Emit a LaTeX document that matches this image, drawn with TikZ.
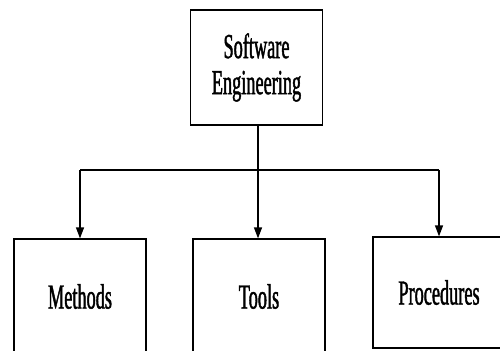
\documentclass[tikz,border=0pt]{standalone}
\usepackage{fontspec}
\newfontfamily\cajafont[FakeStretch=0.52,FakeBold=1.2]{Liberation Serif}
\usetikzlibrary{positioning,arrows.meta}
\begin{document}
\begin{tikzpicture}[
	caja/.style={draw, line width=.7pt, minimum width=2.64cm, minimum height=2.3cm, align=center, font=\cajafont\fontsize{20}{20.5}\selectfont},
	flecha/.style={-{Triangle[length=2.2mm,width=1.6mm]}, line width=.7pt}]
			\useasboundingbox (0,0) rectangle (10,7);
			\clip (0,0) rectangle (10,7);
			%Raiz%
			\node[caja] (se) at (5.13,5.65) {Software\\Engineering};
			%Hijos%
			\node[caja] (met) at (1.6,1.07) {Methods};
			\node[caja] (too) at (5.18,1.07) {\raisebox{-3pt}{Tools}};
			\node[caja, minimum height=2.22cm] (pro) at (8.78,1.15) {Procedures};
			\coordinate (rama) at (5.16,3.6);
			\draw [line width=.7pt] (se.south -| rama) -- (rama);
			\draw [line width=.7pt] (met.north |- rama) -- (pro.north |- rama);
			\draw [flecha] (met.north |- rama) -- (met.north);
			\draw [flecha] (rama) -- (rama |- too.north);
			\draw [flecha] (pro.north |- rama) -- (pro.north);
\end{tikzpicture}
\end{document}
